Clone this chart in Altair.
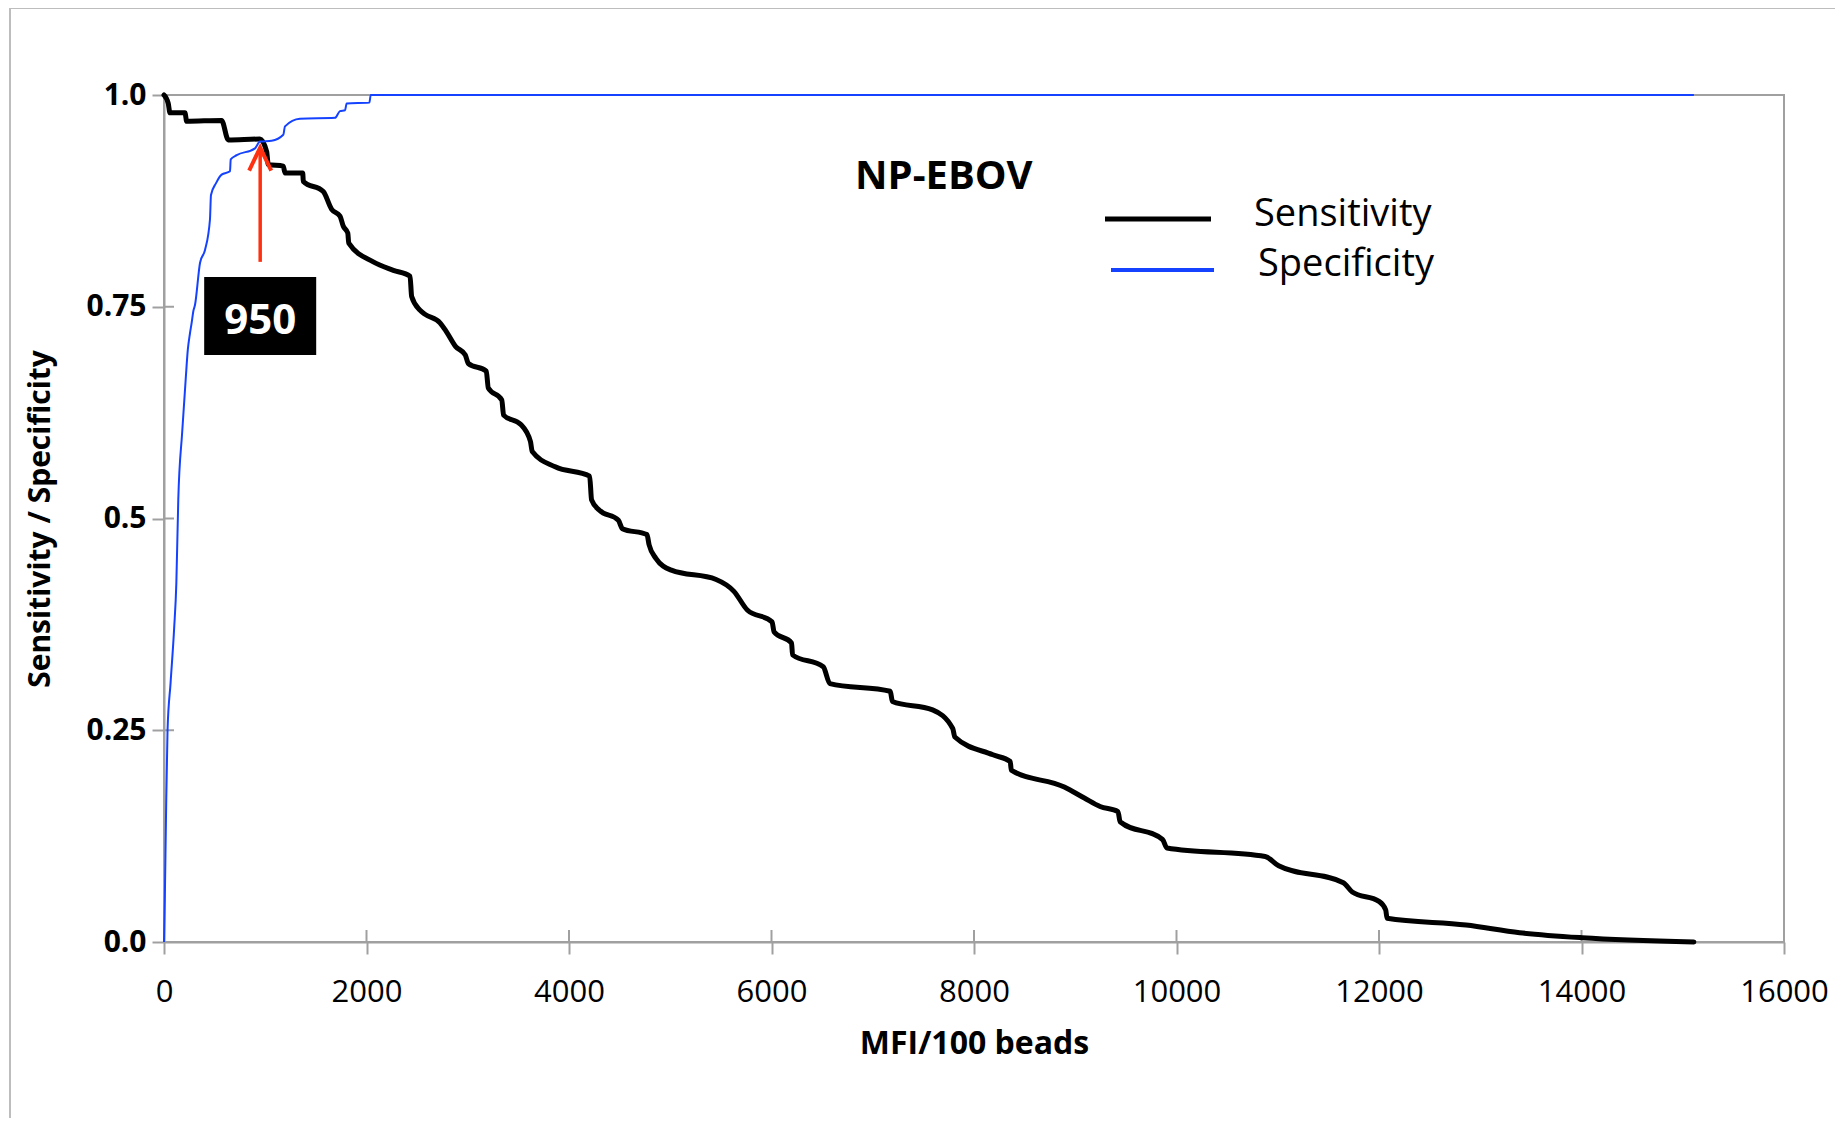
import altair as alt
import pandas as pd

# ---------------- data ----------------
series_names = ["Sensitivity", "Specificity"]

sens_x = [0, 42, 59, 207, 224, 569, 635, 948, 1014, 1030, 1178, 1195, 1370, 1376,
          1573, 1656, 1738, 1771, 1815, 1825, 2067, 2265, 2430, 2446, 2528, 2579,
          2726, 2787, 2881, 2976, 3006, 3183, 3203, 3336, 3354, 3524, 3619, 3637,
          3864, 4204, 4223, 4298, 4488, 4527, 4770, 4791, 4858, 5011, 5453, 5629,
          5761, 6005, 6026, 6198, 6208, 6511, 6577, 7173, 7194, 7591, 7790, 7811,
          8187, 8358, 8368, 8892, 9090, 9245, 9422, 9443, 9862, 9906, 10876, 11009,
          11648, 11736, 12000, 12066, 12080, 12860, 13389, 14007, 15110]
sens_y = [1.0, 0.990, 0.979, 0.979, 0.969, 0.970, 0.947, 0.948, 0.933, 0.918, 0.916,
          0.908, 0.908, 0.898, 0.886, 0.865, 0.857, 0.845, 0.837, 0.825, 0.803, 0.793,
          0.786, 0.762, 0.746, 0.741, 0.731, 0.721, 0.703, 0.693, 0.683, 0.674, 0.654,
          0.640, 0.622, 0.611, 0.591, 0.579, 0.561, 0.550, 0.522, 0.510, 0.498, 0.488,
          0.481, 0.469, 0.453, 0.439, 0.428, 0.414, 0.392, 0.378, 0.366, 0.353, 0.339,
          0.325, 0.305, 0.296, 0.284, 0.274, 0.252, 0.242, 0.221, 0.213, 0.203, 0.183,
          0.170, 0.160, 0.154, 0.142, 0.121, 0.111, 0.101, 0.090, 0.070, 0.059, 0.048,
          0.038, 0.028, 0.020, 0.011, 0.005, 0.0]

spec_x = [0, 8, 20, 35, 65, 100, 122, 141, 179, 214, 235, 257, 273, 290, 306, 356,
          405, 454, 464, 514, 569, 652, 659, 718, 899, 948, 1063, 1178, 1195, 1343,
          1689, 1738, 1788, 1804, 2028, 2042, 15110]
spec_y = [0.0, 0.05, 0.15, 0.25, 0.306, 0.37, 0.424, 0.522, 0.601, 0.664, 0.699,
          0.719, 0.731, 0.745, 0.752, 0.802, 0.817, 0.853, 0.882, 0.896, 0.906, 0.910,
          0.924, 0.929, 0.937, 0.945, 0.946, 0.953, 0.963, 0.972, 0.973, 0.981, 0.982,
          0.990, 0.991, 1.0, 1.0]

x_ticks = [0, 2000, 4000, 6000, 8000, 10000, 12000, 14000, 16000]
y_ticks = [0, 0.25, 0.5, 0.75, 1.0]

cutoff = 950
cutoff_value = 0.938
arrow_tail_value = 0.803
label_value = 0.739
chart_title = "NP-EBOV"

# ---------------- styling ----------------
W, H = 1620, 847
GRAY = "#A0A0A0"
RED = "#FF3010"
BLUE = "#1442FF"
FONT = "Open Sans"

x_scale = alt.Scale(domain=[0, 16000], nice=False, zero=False)
y_scale = alt.Scale(domain=[0, 1], nice=False)

x_axis = alt.Axis(values=x_ticks, format="d", title="MFI/100 beads", grid=False,
                  labelFont=FONT, labelFontSize=31, labelFontWeight="normal",
                  labelColor="black", labelPadding=23, labelFlush=False,
                  tickSize=12, tickWidth=2,
                  tickColor=GRAY, domainColor=GRAY, domainWidth=2,
                  titleFont=FONT, titleFontSize=32, titleFontWeight="bold",
                  titleColor="black", titleY=101, titleBaseline="middle")
y_axis = alt.Axis(values=y_ticks,
                  labelExpr="datum.value == 0 ? '0.0' : datum.value == 1 ? '1.0' : format(datum.value, '.2~f')",
                  title="Sensitivity / Specificity", grid=False,
                  labelFont=FONT, labelFontSize=30, labelFontWeight="bold",
                  labelColor="black", labelPadding=6, labelFlush=False,
                  tickSize=12, tickWidth=2,
                  tickColor=GRAY, domainColor=GRAY, domainWidth=2,
                  titleFont=FONT, titleFontSize=30, titleFontWeight="bold",
                  titleColor="black", titleX=-124, titleY=H / 2,
                  titleBaseline="middle")

X = alt.X("x:Q", scale=x_scale, axis=x_axis)
Y = alt.Y("v:Q", scale=y_scale, axis=y_axis)

sens_df = pd.DataFrame({"x": sens_x, "v": sens_y, "series": series_names[0]})
spec_df = pd.DataFrame({"x": spec_x, "v": spec_y, "series": series_names[1]})
one = pd.DataFrame({"k": [0]})

sens_line = alt.Chart(sens_df).mark_line(
    color="black", strokeWidth=5, interpolate="monotone", strokeCap="round",
    strokeJoin="round").encode(x=X, y=Y)
spec_line = alt.Chart(spec_df).mark_line(
    color=BLUE, strokeWidth=2, interpolate="monotone").encode(x=X, y=Y)

# inward halves of the crossing tick marks
x_in = alt.Chart(pd.DataFrame({"x": x_ticks})).mark_rule(
    color=GRAY, strokeWidth=2).encode(x=X, y=alt.value(H - 12), y2=alt.value(H))
y_in = alt.Chart(pd.DataFrame({"v": y_ticks})).mark_rule(
    color=GRAY, strokeWidth=2).encode(y=Y, x=alt.value(0), x2=alt.value(10))

# outer chart-area frame
frame_left = alt.Chart(one).mark_rule(color="#BDBDBD", strokeWidth=2).encode(
    x=alt.value(-154), y=alt.value(-87), y2=alt.value(1023))
frame_top = alt.Chart(one).mark_rule(color="#BDBDBD", strokeWidth=2).encode(
    x=alt.value(-154), x2=alt.value(1671), y=alt.value(-87))

# cutoff annotation
ann_df = pd.DataFrame({"x": [cutoff], "v": [cutoff_value],
                       "v2": [arrow_tail_value], "vl": [label_value],
                       "label": [str(cutoff)]})
arrow_shaft = alt.Chart(ann_df).mark_rule(color=RED, strokeWidth=3.5).encode(
    x=X, y=Y, y2="v2:Q")
arrow_head = alt.Chart(ann_df).mark_point(
    shape="M -0.48 1 L 0 0 L 0.48 1", size=2116, filled=False, color=RED,
    strokeWidth=4, opacity=1).encode(x=X, y=Y)
box = alt.Chart(ann_df).mark_point(
    shape="M -1.436 -1 L 1.436 -1 L 1.436 1 L -1.436 1 Z", size=6084,
    filled=True, color="black", opacity=1, strokeWidth=0).encode(
    x=X, y=alt.Y("vl:Q", scale=y_scale, axis=y_axis))
box_text = alt.Chart(ann_df).mark_text(
    font=FONT, fontSize=42, fontWeight="bold", color="white", align="center",
    baseline="middle", dy=5).encode(x=X, y=alt.Y("vl:Q", scale=y_scale, axis=y_axis),
                                    text="label:N")

# title inside plot
title_txt = alt.Chart(one).mark_text(
    font=FONT, fontSize=40, fontWeight="bold", color="black", align="left",
    baseline="middle").encode(x=alt.value(691), y=alt.value(82),
                              text=alt.value(chart_title))

# legend
leg_black = alt.Chart(one).mark_rule(color="black", strokeWidth=5).encode(
    x=alt.value(941), x2=alt.value(1047), y=alt.value(124))
leg_blue = alt.Chart(one).mark_rule(color=BLUE, strokeWidth=4).encode(
    x=alt.value(947), x2=alt.value(1050), y=alt.value(175))
leg_t1 = alt.Chart(one).mark_text(
    font=FONT, fontSize=38, color="black", align="left", baseline="middle").encode(
    x=alt.value(1090), y=alt.value(120), text=alt.value(series_names[0]))
leg_t2 = alt.Chart(one).mark_text(
    font=FONT, fontSize=38, color="black", align="left", baseline="middle").encode(
    x=alt.value(1094), y=alt.value(170), text=alt.value(series_names[1]))

chart = alt.layer(
    frame_left, frame_top, x_in, y_in, sens_line, spec_line,
    arrow_shaft, arrow_head, box, box_text, title_txt,
    leg_black, leg_blue, leg_t1, leg_t2
).properties(
    width=W, height=H,
    autosize=alt.AutoSizeParams(type="none"),
    padding={"left": 156, "top": 87, "right": 51, "bottom": 176},
    background="white",
).configure_view(stroke=GRAY, strokeWidth=2)

chart.save("out.html", embed_options={"renderer": "svg", "actions": False})
